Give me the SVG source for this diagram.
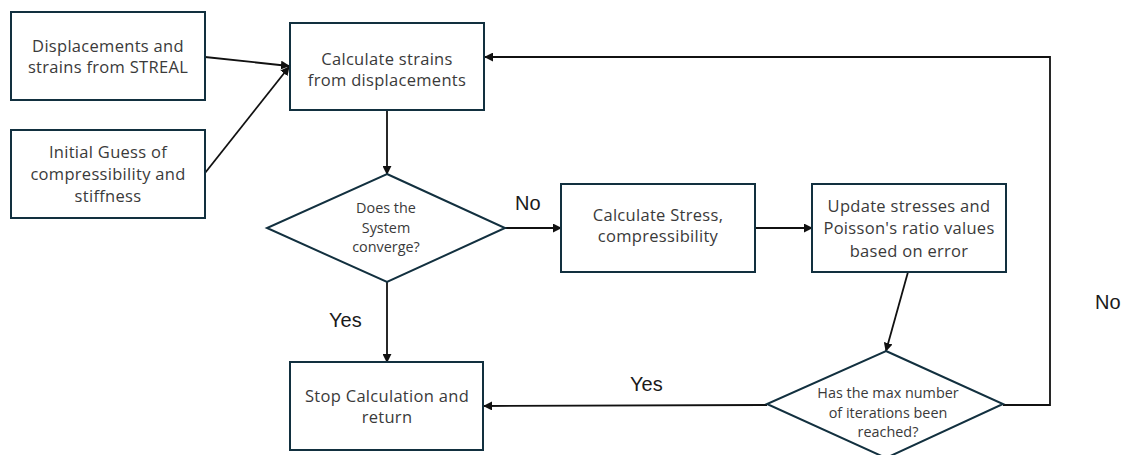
<svg xmlns="http://www.w3.org/2000/svg" width="1129" height="455" viewBox="0 0 1129 455">
  <style>
    .box { fill: #ffffff; stroke: #12303f; stroke-width: 2; }
    .t { font-family: "Open Sans", "Liberation Sans", sans-serif; font-size: 16.5px; letter-spacing: 0.3px; fill: #3a3a3a; text-anchor: middle; }
    .ts { font-family: "Open Sans", "Liberation Sans", sans-serif; font-size: 14.4px; fill: #3a3a3a; text-anchor: middle; }
    .lbl { font-family: "Liberation Sans", Arial, sans-serif; font-size: 20px; fill: #1a1a1a; }
    .edge { fill: none; stroke: #111111; stroke-width: 1.8; }
  </style>
  <defs>
    <marker id="arrow" viewBox="0 0 10 10" refX="9" refY="5" markerWidth="5" markerHeight="5" orient="auto" markerUnits="strokeWidth">
      <path d="M0,0 L10,5 L0,10 z" fill="#111111"/>
    </marker>
  </defs>
  <rect width="1129" height="455" fill="#ffffff"/>

  <!-- connectors -->
  <g id="connectors">
    <line class="edge" x1="205" y1="57" x2="289" y2="66" marker-end="url(#arrow)"/>
    <line class="edge" x1="205" y1="173" x2="289" y2="67" marker-end="url(#arrow)"/>
    <line class="edge" x1="387" y1="110" x2="387" y2="174" marker-end="url(#arrow)"/>
    <line class="edge" x1="505" y1="228" x2="561" y2="228" marker-end="url(#arrow)"/>
    <line class="edge" x1="755" y1="228" x2="812" y2="228" marker-end="url(#arrow)"/>
    <line class="edge" x1="908" y1="272" x2="886" y2="351" marker-end="url(#arrow)"/>
    <line class="edge" x1="387" y1="282" x2="387" y2="362" marker-end="url(#arrow)"/>
    <line class="edge" x1="767" y1="405" x2="484" y2="406" marker-end="url(#arrow)"/>
    <polyline class="edge" points="1003,405 1050,405 1050,57 485,57" marker-end="url(#arrow)"/>
    <text class="lbl" x="515" y="210">No</text>
    <text class="lbl" x="329" y="327">Yes</text>
    <text class="lbl" x="630" y="391">Yes</text>
    <text class="lbl" x="1095" y="309">No</text>
  </g>

  <g id="node-input">
    <rect class="box" x="11" y="12" width="194" height="88"/>
    <text class="t" x="108" y="52">Displacements and</text>
    <text class="t" x="108" y="73">strains from STREAL</text>
  </g>

  <g id="node-guess">
    <rect class="box" x="11" y="130" width="194" height="88"/>
    <text class="t" x="108" y="158">Initial Guess of</text>
    <text class="t" x="108" y="180">compressibility and</text>
    <text class="t" x="108" y="202">stiffness</text>
  </g>

  <g id="node-strains">
    <rect class="box" x="290" y="23" width="194" height="87"/>
    <text class="t" x="387" y="65">Calculate strains</text>
    <text class="t" x="387" y="86">from displacements</text>
  </g>

  <g id="node-converge">
    <polygon class="box" points="387,174 505,228 387,282 267,228"/>
    <text class="ts" x="386" y="213">Does the</text>
    <text class="ts" x="386" y="233">System</text>
    <text class="ts" x="386" y="252">converge?</text>
  </g>

  <g id="node-stress">
    <rect class="box" x="561" y="184" width="194" height="88"/>
    <text class="t" x="658" y="221">Calculate Stress,</text>
    <text class="t" x="658" y="242">compressibility</text>
  </g>

  <g id="node-update">
    <rect class="box" x="812" y="184" width="194" height="88"/>
    <text class="t" x="909" y="212">Update stresses and</text>
    <text class="t" x="909" y="234">Poisson's ratio values</text>
    <text class="t" x="909" y="257">based on error</text>
  </g>

  <g id="node-iterations">
    <polygon class="box" points="886,351 1003,404 886,458 767,404"/>
    <text class="ts" x="888" y="398">Has the max number</text>
    <text class="ts" x="888" y="418">of iterations been</text>
    <text class="ts" x="888" y="437">reached?</text>
  </g>

  <g id="node-stop">
    <rect class="box" x="290" y="362" width="193" height="88"/>
    <text class="t" x="387" y="402">Stop Calculation and</text>
    <text class="t" x="387" y="423">return</text>
  </g>
</svg>
